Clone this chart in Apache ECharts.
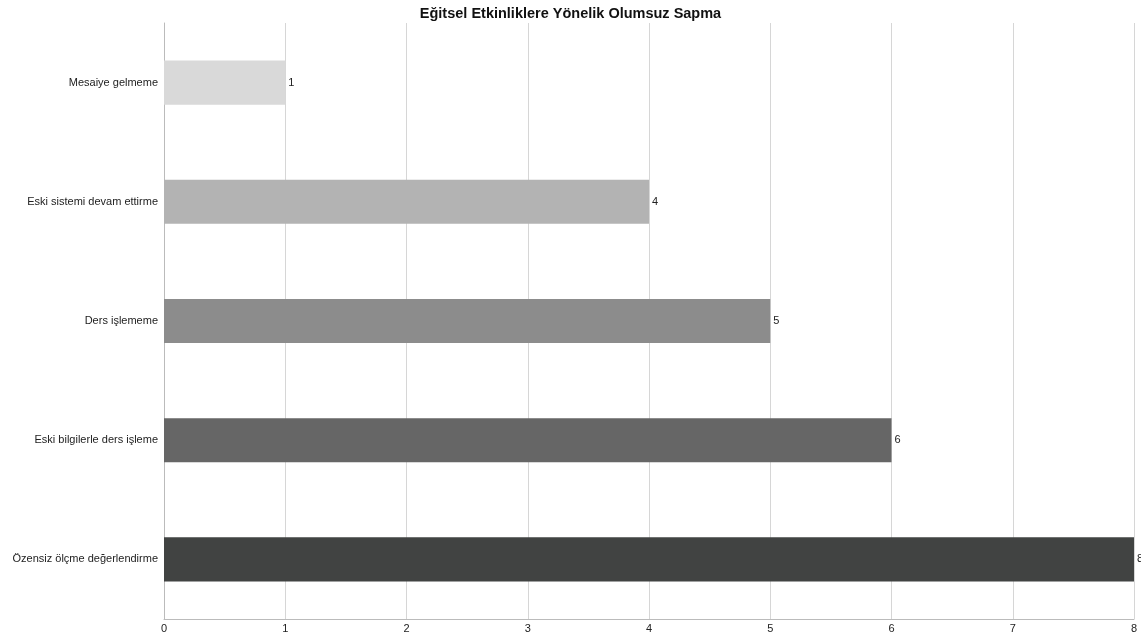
<!DOCTYPE html>
<html>
<head>
<meta charset="utf-8">
<script src="https://cdn.jsdelivr.net/npm/echarts@6/dist/echarts.min.js"></script>
<style>
  html, body { margin: 0; padding: 0; background: #fff; }
  #chart { width: 1141px; height: 638px; }
</style>
</head>
<body>
<div id="chart"></div>
<script>
// Categories, top to bottom
const categories = [
  'Mesaiye gelmeme',
  'Eski sistemi devam ettirme',
  'Ders işlememe',
  'Eski bilgilerle ders işleme',
  'Özensiz ölçme değerlendirme'
];
const values = [1, 4, 5, 6, 8];
const barColors = ['#d9d9d9', '#b3b3b3', '#8c8c8c', '#666666', '#414342'];
const xTicks = [0, 1, 2, 3, 4, 5, 6, 7, 8];

const chart = echarts.init(document.getElementById('chart'));
const font = '"Liberation Sans", Arial, Helvetica, sans-serif';

chart.setOption({
  animation: false,
  title: {
    text: 'Eğitsel Etkinliklere Yönelik Olumsuz Sapma',
    left: 'center',
    top: 1,
    textStyle: { fontFamily: font, fontSize: 14.5, fontWeight: 'bold', color: '#111' }
  },
  grid: { left: 164, right: 7, top: 23, bottom: 19, containLabel: false },
  xAxis: {
    type: 'value',
    min: xTicks[0],
    max: xTicks[xTicks.length - 1],
    interval: 1,
    axisLine: { show: true, lineStyle: { color: '#bbbbbb', width: 1 } },
    axisTick: { show: false },
    splitLine: { show: true, lineStyle: { color: '#d6d6d6', width: 1 } },
    axisLabel: { fontFamily: font, fontSize: 11, color: '#222', margin: 4 }
  },
  yAxis: {
    type: 'category',
    data: categories,
    inverse: true,
    axisLine: { show: true, lineStyle: { color: '#bbbbbb', width: 1 } },
    axisTick: { show: false },
    axisLabel: { fontFamily: font, fontSize: 11, color: '#222', margin: 6 }
  },
  series: [{
    type: 'bar',
    data: values.map((v, i) => ({ value: v, itemStyle: { color: barColors[i] } })),
    barWidth: '37%',
    label: {
      show: true,
      position: 'right',
      distance: 3,
      fontFamily: font,
      fontSize: 11,
      color: '#222'
    }
  }]
});
</script>
</body>
</html>
